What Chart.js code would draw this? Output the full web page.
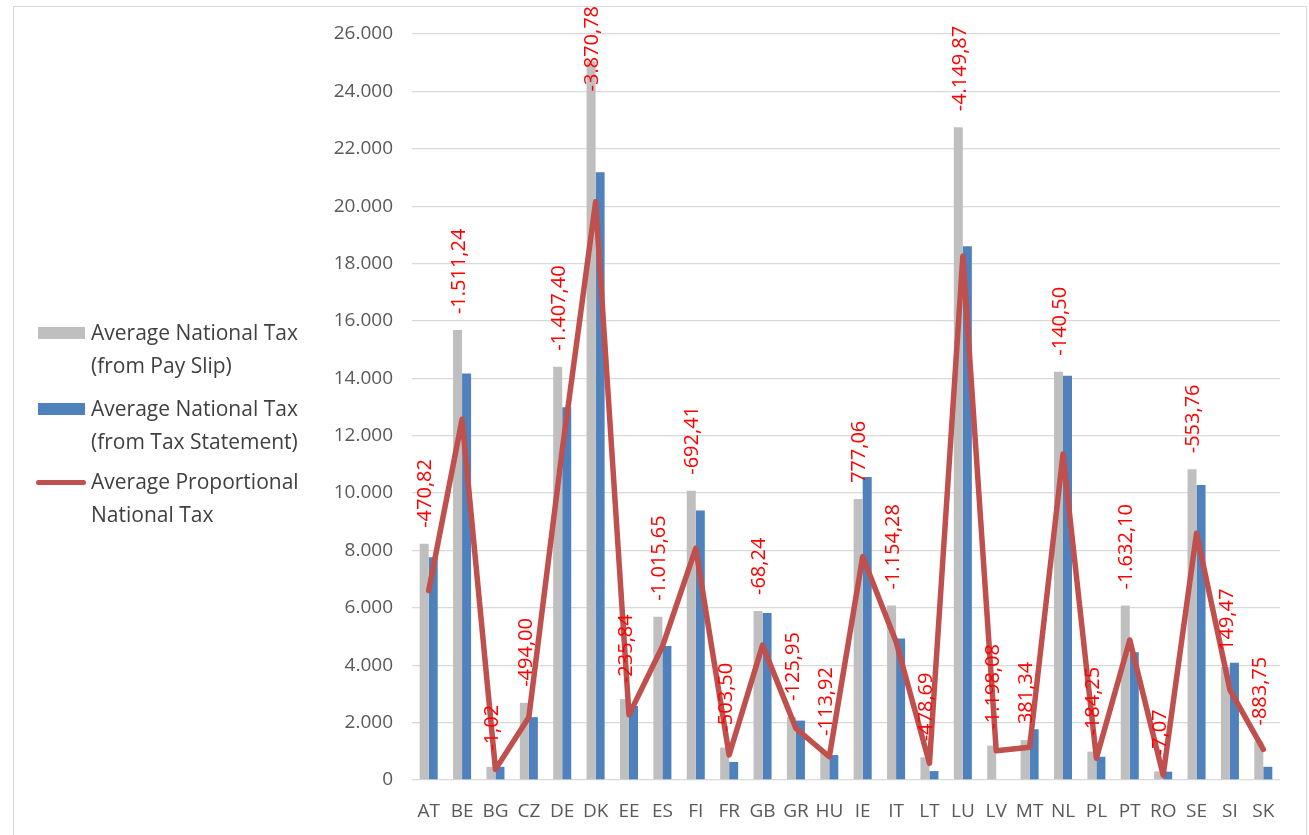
<!DOCTYPE html>
<html>
<head>
<meta charset="utf-8">
<title>Average National Tax</title>
<script src="https://cdn.jsdelivr.net/npm/chart.js@4.4.1/dist/chart.umd.min.js"></script>
<style>
  html, body { margin: 0; padding: 0; background: #fff; }
  #wrap { position: relative; width: 1309px; height: 835px; overflow: hidden; font-family: 'Open Sans', sans-serif; }
  #frame { position: absolute; left: 13px; top: 6px; width: 1292px; height: 860px; border: 1px solid #d9d9d9; }
  canvas { position: absolute; left: 0; top: 0; }
  .sw { position: absolute; }
  .txt { position: absolute; left: 91px; font-size: 21px; line-height: 33px; color: #404040; white-space: nowrap; }
</style>
</head>
<body>
<div id="wrap">
  <div id="frame"></div>
  <canvas id="taxChart" width="1309" height="835"></canvas>

  <!-- legend -->
  <div class="sw" style="left:38px; top:327px; width:47px; height:12px; background:#BFBFBF;"></div>
  <div class="txt" style="top:316px;">Average National Tax<br>(from Pay Slip)</div>
  <div class="sw" style="left:38px; top:403px; width:47px; height:12px; background:#4F81BD;"></div>
  <div class="txt" style="top:392px;">Average National Tax<br>(from Tax Statement)</div>
  <div class="sw" style="left:36px; top:480px; width:50px; height:5px; border-radius:3px; background:#C0504D;"></div>
  <div class="txt" style="top:465px;">Average Proportional<br>National Tax</div>
</div>

<script>
const countries = ['AT', 'BE', 'BG', 'CZ', 'DE', 'DK', 'EE', 'ES', 'FI', 'FR', 'GB', 'GR', 'HU',
  'IE', 'IT', 'LT', 'LU', 'LV', 'MT', 'NL', 'PL', 'PT', 'RO', 'SE', 'SI', 'SK'];

// Average National Tax (from Pay Slip)
const paySlip = [8230, 15680, 460, 2690, 14400, 25050, 2820, 5690, 10080, 1130, 5890, 2200, 980,
  9790, 6080, 790, 22750, 1200, 1390, 14230, 990, 6080, 300, 10830, 3940, 1340];

// Average National Tax (from Tax Statement)
const taxStatement = [7760, 14170, 460, 2190, 12990, 21180, 2580, 4670, 9390, 630, 5820, 2070, 870,
  10560, 4930, 310, 18600, 0, 1770, 14090, 810, 4450, 290, 10280, 4090, 460];

// Average Proportional National Tax
const proportional = [6600, 12570, 370, 2190, 11500, 20150, 2270, 4650, 8070, 870, 4700, 1800, 810,
  7780, 4820, 580, 18260, 1020, 1140, 11360, 760, 4880, 170, 8600, 3140, 1070];

// difference labels (statement minus pay slip)
const diffText = ['-470,82', '-1.511,24', '-1,02', '-494,00', '-1.407,40', '-3.870,78', '-235,84',
  '-1.015,65', '-692,41', '-503,50', '-68,24', '-125,95', '-113,92', '777,06', '-1.154,28',
  '-478,69', '-4.149,87', '-1.198,08', '381,34', '-140,50', '-184,25', '-1.632,10', '-7,07',
  '-553,76', '149,47', '-883,75'];

const yMax = 26000;
const yStep = 2000;

// red rotated labels sitting above the pay slip bars
const diffLabels = {
  id: 'diffLabels',
  afterDatasetsDraw(chart) {
    const ctx = chart.ctx;
    const bars = chart.getDatasetMeta(1).data;
    const xScale = chart.scales.x;
    ctx.save();
    ctx.font = '20px "Open Sans"';
    ctx.fillStyle = '#FF0000';
    ctx.textAlign = 'left';
    ctx.textBaseline = 'middle';
    diffText.forEach((t, i) => {
      const w = ctx.measureText(t).width;
      let start = bars[i].y - 16;
      if (start - w < 6) start = 6 + w; // keep inside the frame like Excel does
      ctx.save();
      ctx.translate(xScale.getPixelForValue(i) - 3, start);
      ctx.rotate(-Math.PI / 2);
      ctx.fillText(t, 0, 0);
      ctx.restore();
    });
    ctx.restore();
  }
};

const ctx = document.getElementById('taxChart').getContext('2d');
new Chart(ctx, {
  type: 'bar',
  data: {
    labels: countries,
    datasets: [{
      type: 'line',
      label: 'Average Proportional National Tax',
      data: proportional,
      borderColor: '#C0504D',
      borderWidth: 5.5,
      pointRadius: 0,
      tension: 0,
      borderJoinStyle: 'round',
      borderCapStyle: 'round',
      order: 0
    }, {
      label: 'Average National Tax (from Pay Slip)',
      data: paySlip,
      backgroundColor: '#BFBFBF',
      categoryPercentage: 0.54,
      barPercentage: 1.0,
      order: 1
    }, {
      label: 'Average National Tax (from Tax Statement)',
      data: taxStatement,
      backgroundColor: '#4F81BD',
      categoryPercentage: 0.54,
      barPercentage: 1.0,
      order: 2
    }]
  },
  options: {
    responsive: false,
    animation: false,
    layout: { padding: { left: 0, top: 34, right: 29, bottom: 0 } },
    plugins: {
      legend: { display: false },
      tooltip: { enabled: false }
    },
    scales: {
      x: {
        grid: { display: false },
        border: { display: false },
        ticks: {
          font: { family: 'Open Sans', size: 19 },
          color: '#595959',
          padding: 12,
          maxRotation: 0,
          autoSkip: false
        },
        afterFit: (scale) => { scale.height = 55; }
      },
      y: {
        min: 0,
        max: yMax,
        grid: { color: '#D9D9D9', lineWidth: 1.3, drawTicks: false },
        border: { display: false },
        ticks: {
          stepSize: yStep,
          font: { family: 'Open Sans', size: 19 },
          color: '#595959',
          padding: 19,
          callback: (v) => v.toLocaleString('de-DE')
        },
        afterFit: (scale) => { scale.width = 412; }
      }
    }
  },
  plugins: [diffLabels]
});
</script>
</body>
</html>
